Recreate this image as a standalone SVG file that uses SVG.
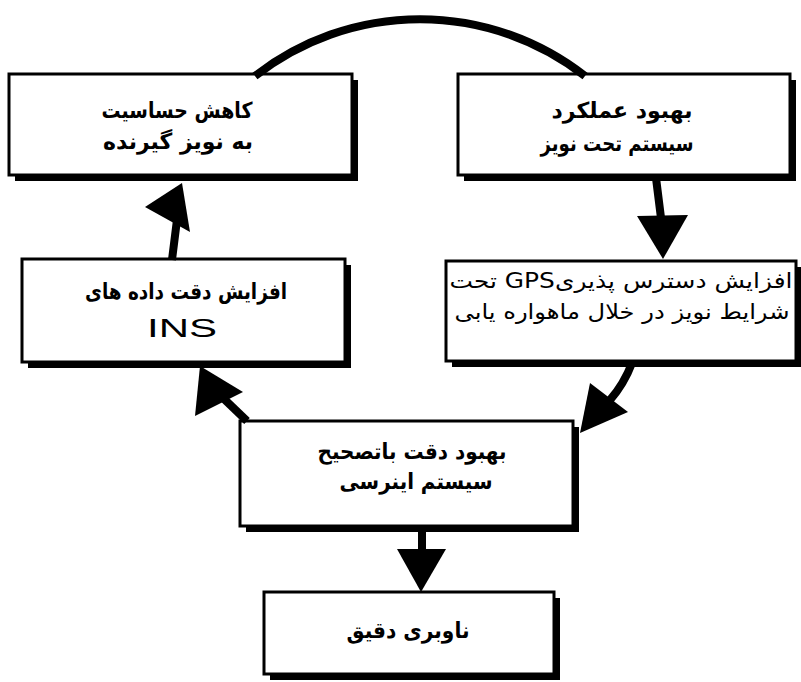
<svg xmlns="http://www.w3.org/2000/svg" width="801" height="682" viewBox="0 0 801 682">
<style>
.shadow{fill:#000}
.box{fill:#fff;stroke:#000;stroke-width:3}
.fa{font-family:"DejaVu Sans",sans-serif;font-weight:bold;font-size:22px;fill:#000;text-anchor:middle}
.fa4{font-family:"DejaVu Sans",sans-serif;font-weight:normal;font-size:21px;fill:#000;text-anchor:middle}
.lat{font-family:"Liberation Sans",Arial,sans-serif;font-size:25px;fill:#000;text-anchor:middle}
.shaft{fill:none;stroke:#000;stroke-width:8}
.head{fill:#000}
</style>
<rect width="801" height="682" fill="#fff"/>
<g id="n1">
<rect class="shadow" x="15" y="80" width="343" height="101"/>
<rect class="box" x="9" y="74" width="343" height="101"/>
<text class="fa" x="177" y="118" direction="rtl" textLength="151" lengthAdjust="spacingAndGlyphs">کاهش حساسیت</text>
<text class="fa" x="178" y="149" direction="rtl" textLength="150" lengthAdjust="spacingAndGlyphs">به نویز گیرنده</text>
</g>
<g id="n2">
<rect class="shadow" x="464" y="80" width="332" height="101"/>
<rect class="box" x="458" y="74" width="332" height="101"/>
<text class="fa" x="622" y="118" direction="rtl" textLength="141" lengthAdjust="spacingAndGlyphs">بهبود عملکرد</text>
<text class="fa" x="617" y="151" direction="rtl" textLength="153" lengthAdjust="spacingAndGlyphs">سیستم تحت نویز</text>
</g>
<g id="n3">
<rect class="shadow" x="28" y="265" width="323" height="103"/>
<rect class="box" x="22" y="259" width="323" height="103"/>
<text class="fa" x="186" y="299" direction="rtl" textLength="202" lengthAdjust="spacingAndGlyphs">افزایش دقت داده های</text>
<text class="lat" x="182" y="337" textLength="70" lengthAdjust="spacingAndGlyphs">INS</text>
</g>
<g id="n4">
<rect class="shadow" x="452" y="267" width="350" height="100"/>
<rect class="box" x="446" y="261" width="350" height="100"/>
<text class="fa4" x="621" y="288" direction="rtl" textLength="343" lengthAdjust="spacingAndGlyphs">افزایش دسترس پذیریGPS تحت</text>
<text class="fa4" x="622" y="319" direction="rtl" textLength="335" lengthAdjust="spacingAndGlyphs">شرایط نویز در خلال ماهواره یابی</text>
</g>
<g id="n5">
<rect class="shadow" x="246" y="427" width="333" height="105"/>
<rect class="box" x="240" y="421" width="333" height="105"/>
<text class="fa" x="412" y="459" direction="rtl" textLength="189" lengthAdjust="spacingAndGlyphs">بهبود دقت باتصحیح</text>
<text class="fa" x="416" y="489" direction="rtl" textLength="153" lengthAdjust="spacingAndGlyphs">سیستم اینرسی</text>
</g>
<g id="n6">
<rect class="shadow" x="270" y="598" width="290" height="82"/>
<rect class="box" x="264" y="592" width="290" height="82"/>
<text class="fa" x="408" y="638" direction="rtl" textLength="123" lengthAdjust="spacingAndGlyphs">ناوبری دقیق</text>
</g>
<g id="connectors">
<path class="shaft" d="M255,76 A268,268 0 0 1 585,76"/>
<path class="shaft" d="M656,178 L661,218"/>
<polygon class="head" points="637,216 688,215 663,259"/>
<path class="shaft" d="M632,363 Q624,384 610,400"/>
<polygon class="head" points="590,383 628,412 580,433"/>
<path class="shaft" d="M247,421 L222,397"/>
<polygon class="head" points="200,366 243,392 195,416"/>
<path class="shaft" d="M172,260 L177,220"/>
<polygon class="head" points="182,183 145,207 190,232"/>
<path class="shaft" d="M422,528 L422,552"/>
<polygon class="head" points="397,549 446,549 421,592"/>
</g>
</svg>
